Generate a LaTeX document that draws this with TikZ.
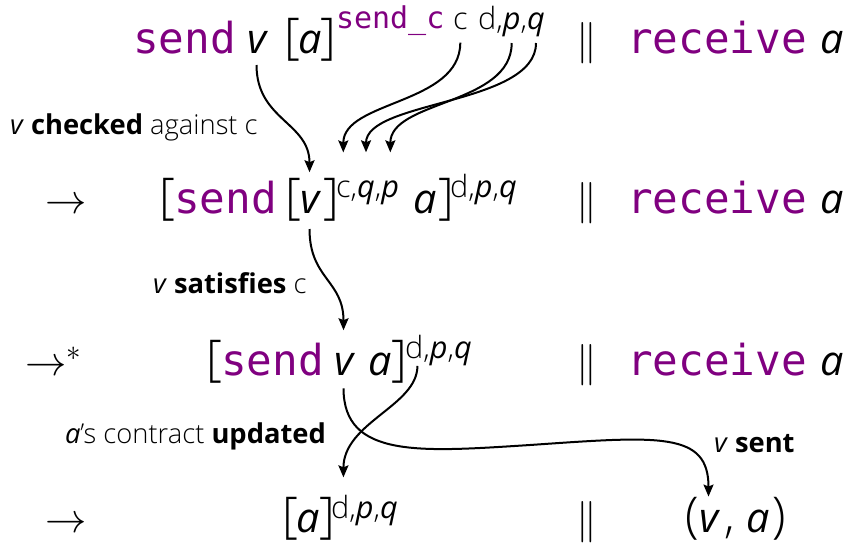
\RequirePackage{fix-cm}
\documentclass[tikz,border=0pt]{standalone}
\usepackage{fontspec}
\IfFontExistsTF{Open Sans Light}{%
  \setmainfont{Open Sans}[UprightFont={* Light},BoldFont={* Bold},ItalicFont={* Italic},BoldItalicFont={* Bold Italic}]}{%
  \setmainfont{Open Sans}}
\setmonofont{DejaVu Sans Mono}
\usetikzlibrary{arrows.meta}
\definecolor{kw}{RGB}{128,0,128}
\tikzset{
  piece/.style={inner sep=0pt, outer sep=0pt, anchor=base west},
  mono/.style={piece, font=\fontsize{32}{34}\selectfont\ttfamily, text=kw},
  it/.style={piece, font=\fontsize{31}{33}\selectfont\itshape},
  brk/.style={piece, font=\fontsize{37}{39}\selectfont},
  sup/.style={piece, font=\fontsize{23}{25}\selectfont},
  supit/.style={piece, font=\fontsize{23}{25}\selectfont\itshape},
  supmono/.style={piece, font=\fontsize{22.5}{24}\selectfont\ttfamily, text=kw},
  lab/.style={piece, font=\fontsize{20.5}{22}\selectfont},
  rel/.style={piece, font=\fontsize{31}{33}\selectfont},
  conn/.style={line width=1.5pt, -{Stealth[length=9pt,width=7.5pt,inset=1.5pt]}}
}
\begin{document}
\begin{tikzpicture}[x=0.75pt,y=-0.75pt]
\useasboundingbox (0,0) rectangle (849,547);
% ---------- row 1
\node[mono] (send1) at (133,53) {send};
\node[it] (v1) at (247,53) {v};
\node[brk] (lb1) at (284,53) {[};
\node[it] (a1) at (298,53) {a};
\node[brk] (rb1) at (320,53) {]};
\node[supmono] (sc1) at (336,28) {send\_c};
\node[sup] (c1) at (453,29) {c};
\node[sup] (d1) at (478,29) {d,};
\node[supit] (p1) at (d1.base east) {p};
\node[sup] (k1) at (p1.base east) {,};
\node[supit] (q1) at (k1.base east) {q};
\node[rel, anchor=base] (par1) at (587,53) {$\parallel$};
\node[mono] (recv1) at (627,53) {receive};
\node[it] (ra1) at (820,53) {a};
% ---------- row 2
\node[rel] (arr2) at (45,213) {$\rightarrow$};
\node[brk] (lb2) at (159,213) {[};
\node[mono] (send2) at (174,213) {send};
\node[brk] (lbv2) at (285,213) {[};
\node[it] (v2) at (300,213) {v};
\node[brk] (rbv2) at (323,213) {]};
\node[sup] (c2) at (336,197) {c};
\node[sup] (k2a) at (c2.base east) {,};
\node[supit] (q2) at (k2a.base east) {q};
\node[sup] (k2b) at (q2.base east) {,};
\node[supit] (p2) at (k2b.base east) {p};
\node[it] (a2) at (413,213) {a};
\node[brk] (rb2) at (438,213) {]};
\node[sup] (d2) at (450,197) {d,};
\node[supit] (p2b) at (d2.base east) {p};
\node[sup] (k2c) at (p2b.base east) {,};
\node[supit] (q2b) at (k2c.base east) {q};
\node[rel, anchor=base] (par2) at (587,213) {$\parallel$};
\node[mono] (recv2) at (627,213) {receive};
\node[it] (ra2) at (820,213) {a};
% ---------- row 3
\node[rel] (arr3) at (25,375) {$\rightarrow^{*}$};
\node[brk] (lb3) at (206,375) {[};
\node[mono] (send3) at (221,375) {send};
\node[it] (v3) at (334,375) {v};
\node[it] (a3) at (368,375) {a};
\node[brk] (rb3) at (391,375) {]};
\node[sup] (d3) at (405,358) {d,};
\node[supit] (p3) at (d3.base east) {p};
\node[sup] (k3) at (p3.base east) {,};
\node[supit] (q3) at (k3.base east) {q};
\node[rel, anchor=base] (par3) at (587,375) {$\parallel$};
\node[mono] (recv3) at (627,375) {receive};
\node[it] (ra3) at (820,375) {a};
% ---------- row 4
\node[rel] (arr4) at (45,532) {$\rightarrow$};
\node[brk] (lb4) at (282,532) {[};
\node[it] (a4) at (296,532) {a};
\node[brk] (rb4) at (319,532) {]};
\node[sup] (d4) at (331,518) {d,};
\node[supit] (p4) at (d4.base east) {p};
\node[sup] (k4) at (p4.base east) {,};
\node[supit] (q4) at (k4.base east) {q};
\node[rel, anchor=base] (par4) at (587,532) {$\parallel$};
\node[brk] (lp4) at (685,532) {(};
\node[it] (v4) at (699,532) {v};
\node[brk] (cm4) at (724,532) {,};
\node[it] (a4b) at (746,532) {a};
\node[brk] (rp4) at (772,532) {)};
% ---------- labels
\node[lab] (l1) at (10,134) {\textit{v} \textbf{checked} against c};
\node[lab] (l2) at (153,293) {\textit{v} \textbf{satisfies} c};
\node[lab] (l3) at (65,443) {\textit{a}'s contract \textbf{updated}};
\node[lab] (l4) at (714,452) {\textit{v} \textbf{sent}};
% ---------- connectors
\draw[conn] ([yshift=-9pt]v1.south) .. controls +(0,55) and +(0,-50) .. ([yshift=14pt]v2.north);
\draw[conn] ([yshift=-10pt]c1.south) .. controls +(0,62) and +(0,-52) .. ([yshift=21pt]c2.north);
\draw[conn] ([yshift=-5pt]p1.south) .. controls +(0,62) and +(0,-52) .. ([yshift=21pt]p2.north);
\draw[conn] ([yshift=-5pt]q1.south) .. controls +(0,62) and +(0,-52) .. ([yshift=21pt]q2.north);
\draw[conn] ([yshift=-12pt]v2.south) .. controls +(0,50) and +(0,-50) .. ([yshift=17pt]v3.north);
\draw[conn] ([yshift=-3pt]d3.south) .. controls +(0,40) and +(0,-55) .. ([yshift=13pt]d4.north);
\coordinate (bend) at (530,445);
\draw[conn] ([yshift=-10pt]v3.south) .. controls +(0,70) and +(-110,7) .. (bend)
   .. controls +(130,-9) and +(0,-65) .. ([yshift=10pt]v4.north);
\end{tikzpicture}
\end{document}
